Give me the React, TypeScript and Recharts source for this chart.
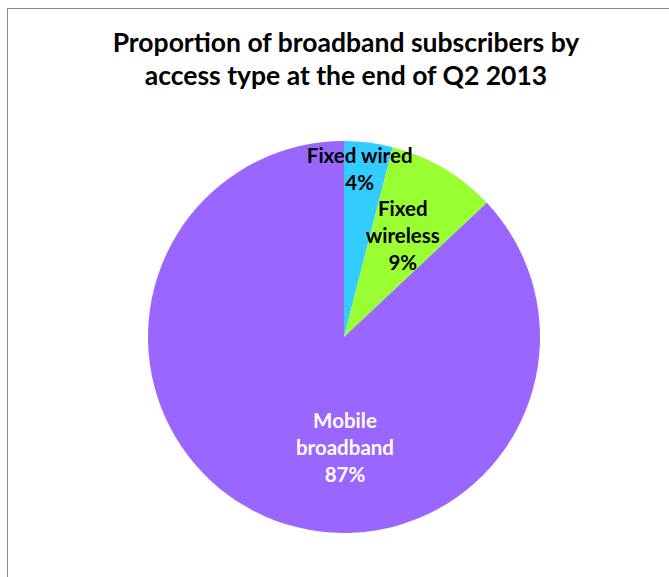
import { PieChart, Pie, Cell } from 'recharts'

const categories = ['Fixed wired', 'Fixed wireless', 'Mobile broadband']
const shares = [4, 9, 87]
const labelLines = [['Fixed wired', '4%'], ['Fixed', 'wireless', '9%'], ['Mobile', 'broadband', '87%']]
const colors = ['#33CCFF', '#99FF33', '#9966FF']
const labelColors = ['#000000', '#000000', '#FFFFFF']

const data = categories.map((name, i) => ({ name, value: shares[i] }))

// label anchor offsets as fractions of radius (Excel "best fit" spots)
const labelSpots = [
  [0.08, -0.86],
  [0.3, -0.52],
  [0.005, 0.56],
]

const FONT = 'Lato, "Open Sans", sans-serif'

function renderLabel(props: any) {
  const { cx, cy, outerRadius, index } = props
  const [fx, fy] = labelSpots[index]
  const x = cx + fx * outerRadius
  const lines = labelLines[index]
  const lh = 27
  const y0 = cy + fy * outerRadius - ((lines.length - 1) * lh) / 2
  return (
    <text
      x={x}
      y={y0}
      textAnchor="middle"
      dominantBaseline="central"
      fill={labelColors[index]}
      style={{ fontFamily: FONT, fontWeight: 700, fontSize: 20.5 }}
    >
      {lines.map((l, i) => (
        <tspan key={i} x={x} y={y0 + i * lh}>{l}</tspan>
      ))}
    </text>
  )
}

export default function App() {
  return (
    <div style={{ position: 'absolute', left: 0, top: 0, width: 669, height: 577, background: '#fff', overflow: 'hidden' }}>
      <div style={{ position: 'absolute', left: 7, top: 8, width: 700, height: 620, border: '1px solid #8c8c8c' }} />
      <div style={{
        position: 'absolute', left: 0, top: 26, width: 692, textAlign: 'center',
        fontFamily: FONT, fontWeight: 700, fontSize: 26.5, lineHeight: '33px', color: '#000',
      }}>
        Proportion of broadband subscribers by<br />access type at the end of Q2 2013
      </div>
      <div style={{ position: 'absolute', left: 0, top: 0 }}>
        <PieChart width={669} height={577} margin={{ top: 0, right: 0, bottom: 0, left: 0 }}>
          <Pie
            data={data}
            dataKey="value"
            nameKey="name"
            cx={344}
            cy={337}
            outerRadius={196}
            startAngle={90}
            endAngle={-270}
            stroke="none"
            labelLine={false}
            label={renderLabel}
            isAnimationActive={false}
          >
            {data.map((d, i) => (
              <Cell key={d.name} fill={colors[i]} />
            ))}
          </Pie>
        </PieChart>
      </div>
    </div>
  )
}
